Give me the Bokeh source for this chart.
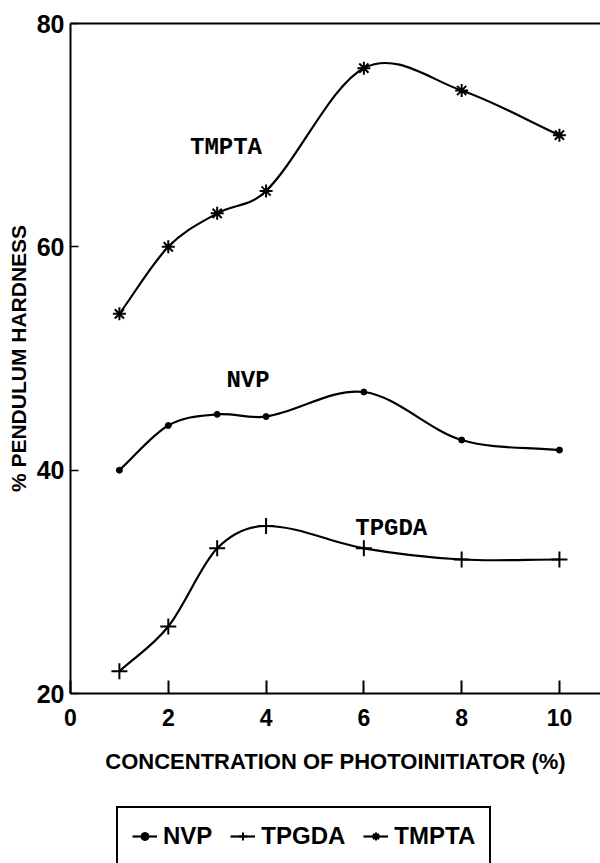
import numpy as np
from bokeh.plotting import figure
from bokeh.layouts import column
from bokeh.models import Range1d, LinearAxis, FixedTicker, Legend, LegendItem, Label
from bokeh.embed import file_html
from bokeh.resources import INLINE

# ---- data ----
conc = [1, 2, 3, 4, 6, 8, 10]
nvp = [40, 44, 45, 44.8, 47, 42.7, 41.8]
tpgda = [22, 26, 33, 35, 33, 32, 32]
tmpta = [54, 60, 63, 65, 76, 74, 70]
x_ticks = [0, 2, 4, 6, 8, 10]
y_ticks = [20, 40, 60, 80]
series_names = ["NVP", "TPGDA", "TMPTA"]


def smooth_bezier(xs, ys):
    """Control points of a C1 cubic spline (x-parameterised) through the data points."""
    xs = np.asarray(xs, float)
    ys = np.asarray(ys, float)
    n = len(xs)
    m = np.empty(n)
    m[0] = (ys[1] - ys[0]) / (xs[1] - xs[0])
    m[-1] = (ys[-1] - ys[-2]) / (xs[-1] - xs[-2])
    m[1:-1] = (ys[2:] - ys[:-2]) / (xs[2:] - xs[:-2])
    h = xs[1:] - xs[:-1]
    return dict(
        x0=xs[:-1], y0=ys[:-1], x1=xs[1:], y1=ys[1:],
        cx0=xs[:-1] + h / 3, cy0=ys[:-1] + m[:-1] * h / 3,
        cx1=xs[1:] - h / 3, cy1=ys[1:] - m[1:] * h / 3,
    )


SANS = "Liberation Sans"
MONO = "Liberation Mono"

p = figure(width=600, height=803, output_backend="svg", toolbar_location=None,
           x_range=Range1d(0, 10.84), y_range=Range1d(20, 80),
           min_border_left=70, min_border_right=0, min_border_top=23, min_border_bottom=110,
           x_axis_label="CONCENTRATION OF PHOTOINITIATOR (%)",
           y_axis_label="% PENDULUM HARDNESS")
p.grid.visible = False
p.outline_line_color = None
p.background_fill_color = "white"
p.border_fill_color = "white"

# axes
xa = p.xaxis[0]
xa.ticker = FixedTicker(ticks=x_ticks)
xa.major_tick_in = 13
xa.major_tick_out = 0
xa.minor_tick_line_color = None
xa.axis_line_width = 2
xa.major_tick_line_width = 2
xa.major_label_text_font = SANS
xa.major_label_text_font_size = "23px"
xa.major_label_text_font_style = "bold"
xa.major_label_text_color = "black"
xa.major_label_standoff = 15
xa.axis_label_text_font = SANS
xa.axis_label_text_font_size = "22px"
xa.axis_label_text_font_style = "bold"
xa.axis_label_text_color = "black"
xa.axis_label_standoff = 20

ya = p.yaxis[0]
ya.ticker = FixedTicker(ticks=y_ticks)
ya.major_tick_in = 8
ya.major_tick_out = 0
ya.minor_tick_line_color = None
ya.axis_line_width = 2
ya.major_tick_line_width = 1.5
ya.major_label_text_font = SANS
ya.major_label_text_font_size = "25px"
ya.major_label_text_font_style = "bold"
ya.major_label_text_color = "black"
ya.major_label_standoff = 6
ya.axis_label_text_font = SANS
ya.axis_label_text_font_size = "21px"
ya.axis_label_text_font_style = "bold"
ya.axis_label_text_color = "black"
ya.axis_label_standoff = 4

top = LinearAxis(ticker=FixedTicker(ticks=[]), major_tick_line_color=None,
                 minor_tick_line_color=None, major_label_text_font_size="0px",
                 axis_line_width=2, major_label_standoff=0)
p.add_layout(top, "above")

# legend strip below the chart (its own small canvas, same glyph styles)
pl = figure(width=600, height=60, output_backend="svg", toolbar_location=None,
            x_range=Range1d(-100, -99), y_range=Range1d(-100, -99),
            x_axis_location=None, y_axis_location=None, min_border=0)
pl.grid.visible = False
pl.outline_line_color = None
pl.background_fill_color = "white"
pl.border_fill_color = "white"

specs = [
    (nvp, "circle", 6),
    (tpgda, "cross", 16),
    (tmpta, "asterisk", 13),
]
items = []
for name, (vals, marker, size) in zip(series_names, specs):
    src = smooth_bezier(conc, vals)
    rends = []
    for fig in (p, pl):
        b = fig.bezier(source=src, x0="x0", y0="y0", x1="x1", y1="y1",
                       cx0="cx0", cy0="cy0", cx1="cx1", cy1="cy1",
                       line_color="black", line_width=2.2)
        if marker == "circle":
            s = fig.scatter(conc, vals, marker="circle", size=size, color="black")
        else:
            s = fig.scatter(conc, vals, marker=marker, size=size, line_color="black", line_width=2)
        rends.append((b, s))
    items.append(LegendItem(label=name, renderers=list(rends[1])))

# in-plot series labels
for txt, lx, ly in [("TMPTA", 3.18, 68.9), ("NVP", 3.63, 48.0), ("TPGDA", 6.56, 34.8)]:
    p.add_layout(Label(x=lx, y=ly, text=txt, text_font=MONO, text_font_size="24px",
                       text_font_style="bold", text_align="center", text_baseline="middle",
                       text_color="black"))

legend = Legend(items=items, orientation="horizontal", location=(46, -3),
                border_line_color="black", border_line_width=2, border_line_alpha=1,
                label_text_font=SANS, label_text_font_size="24px",
                label_text_font_style="bold", label_text_color="black",
                glyph_width=25, glyph_height=20, spacing=18, padding=14,
                label_standoff=6, margin=0, background_fill_alpha=1)
pl.add_layout(legend, "center")

layout = column(p, pl, spacing=0)
open("out.html", "w").write(file_html(layout, INLINE))
